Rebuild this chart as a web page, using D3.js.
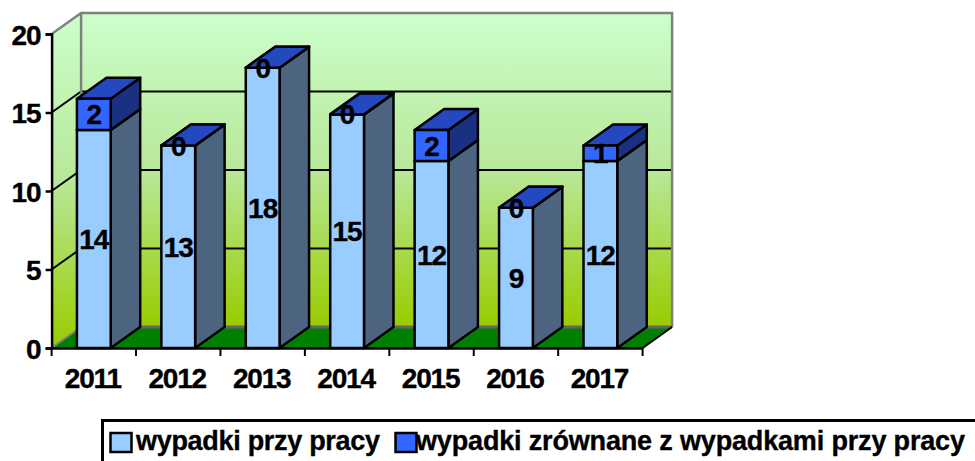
<!DOCTYPE html>
<html><head><meta charset="utf-8">
<script src="https://cdn.jsdelivr.net/npm/d3@7/dist/d3.min.js"></script>
<style>html,body{margin:0;padding:0;background:#fff;overflow:hidden}svg{display:block}text{font-family:"Liberation Sans",Arial,sans-serif;font-weight:bold;fill:#000;stroke:#000;stroke-width:0.35px}</style>
</head><body><script>
const years = ["2011","2012","2013","2014","2015","2016","2017"];
const wypadki = [14,13,18,15,12,9,12];
const zrownane = [2,0,0,0,2,0,1];
const yTicks = [0,5,10,15,20];
const legendLabels = ["wypadki przy pracy","wypadki zrównane z wypadkami przy pracy"];

const W=975,H=461, dx=29.5, dy=-21;
const x=d3.scaleBand().domain(years).range([51.6,642.6]).paddingInner(0.6).paddingOuter(0.3);
const y=d3.scaleLinear().domain([0,20]).range([348,34]);
const yBar=d3.scaleLinear().domain([0,20]).range([348,36.5]);
const svg=d3.select("body").append("svg").attr("width",W).attr("height",H);
const defs=svg.append("defs");
const g=defs.append("linearGradient").attr("id","wall").attr("x1",0).attr("y1",0).attr("x2",0).attr("y2",1);
g.append("stop").attr("offset",0).attr("stop-color","#ccffcc");
g.append("stop").attr("offset",0.5).attr("stop-color","#b8e899");
g.append("stop").attr("offset",1).attr("stop-color","#99cc00");
const pts=a=>a.map(p=>p.join(",")).join(" ");
const x0=x.range()[0],x1=x.range()[1],y0=y(0),yT=y(20);

svg.append("polygon").attr("points",pts([[x0,yT],[x0+dx,yT+dy],[x0+dx,y0+dy],[x0,y0]])).attr("fill","url(#wall)");
svg.append("rect").attr("x",x0+dx).attr("y",yT+dy).attr("width",x1-x0).attr("height",y0-yT).attr("fill","url(#wall)");
svg.append("polygon").attr("points",pts([[x0,y0],[x0+dx,y0+dy],[x1+dx,y0+dy],[x1,y0]])).attr("fill","#008000");

// gridlines on the walls
yTicks.filter(t=>t>0&&t<20).forEach(t=>{
  svg.append("polyline").attr("points",pts([[x0,y(t)],[x0+dx,y(t)+dy],[x1+dx,y(t)+dy]])).attr("fill","none").attr("stroke","#000").attr("stroke-width",2);
});
// wall edges
svg.append("polyline").attr("points",pts([[x0,yT],[x0+dx,yT+dy],[x1+dx,yT+dy],[x1+dx,y0+dy]])).attr("fill","none").attr("stroke","#808080").attr("stroke-width",2.5);
svg.append("line").attr("x1",x0+dx).attr("x2",x0+dx).attr("y1",yT+dy).attr("y2",y0+dy).attr("stroke","#808080").attr("stroke-width",2.5);
svg.append("line").attr("x1",x0+dx).attr("x2",x1+dx).attr("y1",y0+dy).attr("y2",y0+dy).attr("stroke","#666").attr("stroke-width",3);
svg.append("line").attr("x1",x0).attr("x2",x0+dx).attr("y1",y0).attr("y2",y0+dy).attr("stroke","#808080").attr("stroke-width",2);
svg.append("line").attr("x1",x1).attr("x2",x1+dx).attr("y1",y0).attr("y2",y0+dy).attr("stroke","#000").attr("stroke-width",2);

function box(xl,w,yb,yt,front,top,side){
  const c=svg.append("g").attr("stroke","#000").attr("stroke-width",2.5).attr("stroke-linejoin","round");
  c.append("polygon").attr("points",pts([[xl+w,yb],[xl+w+dx,yb+dy],[xl+w+dx,yt+dy],[xl+w,yt]])).attr("fill",side);
  c.append("polygon").attr("points",pts([[xl,yt],[xl+dx,yt+dy],[xl+w+dx,yt+dy],[xl+w,yt]])).attr("fill",top);
  c.append("rect").attr("x",xl).attr("y",yt).attr("width",w).attr("height",yb-yt).attr("fill",front);
}
years.forEach((yr,i)=>{
  const a=wypadki[i],b=zrownane[i],xl=x(yr),w=x.bandwidth();
  box(xl,w,yBar(0),yBar(a),"#99ccff","#99ccff","#4d6480");
  box(xl,w,yBar(a),yBar(a+b),"#3366ff","#2448c0","#1a3080");
});
// data labels
const lab=(t,cx,cy)=>svg.append("text").attr("x",cx).attr("y",cy).attr("dy","0.36em").attr("text-anchor","middle").style("font-size","28px").style("letter-spacing","-1px").text(t);
years.forEach((yr,i)=>{
  const a=wypadki[i],b=zrownane[i],cx=x(yr)+x.bandwidth()/2;
  lab(a,cx,(yBar(0)+yBar(a))/2);
  lab(b,cx,(yBar(a)+yBar(a+b))/2);
});
// axes
const ay=svg.append("g").attr("transform",`translate(${x0},0)`).call(d3.axisLeft(y).tickValues(yTicks).tickSize(6).tickPadding(5));
ay.selectAll("text").style("font-size","28px").style("letter-spacing","-1px").style("font-family",'"Liberation Sans"').attr("dy","0.36em");
ay.selectAll("line,path").attr("stroke","#000").attr("stroke-width",2.5);
const ax=svg.append("g").attr("transform",`translate(-1,${y0})`).call(d3.axisBottom(x).tickSize(0).tickPadding(20));
ax.selectAll("text").style("font-size","28px").style("letter-spacing","-1.2px").style("font-family",'"Liberation Sans"');
ax.select("path").attr("transform","translate(1,0)").attr("stroke","#000").attr("stroke-width",2.5);
d3.range(years.length+1).forEach(i=>{
  const tx=x0+i*x.step()+1;
  ax.append("line").attr("x1",tx).attr("x2",tx).attr("y1",0).attr("y2",8).attr("stroke","#000").attr("stroke-width",2);
});
// legend
const lg=svg.append("g");
lg.append("rect").attr("x",102.5).attr("y",420.5).attr("width",890).attr("height",60).attr("fill","#fff").attr("stroke","#000").attr("stroke-width",3);
const lx=[[110.5,136,244],[395.5,416,549]];
legendLabels.forEach((t,i)=>{
  lg.append("rect").attr("x",lx[i][0]).attr("y",433).attr("width",21).attr("height",19).attr("fill",i?"#3366ff":"#99ccff").attr("stroke","#000").attr("stroke-width",2.5);
  lg.append("text").attr("x",lx[i][1]).attr("y",450).attr("textLength",lx[i][2]).attr("lengthAdjust","spacing").style("font-size","27px").text(t);
});
</script></body></html>
